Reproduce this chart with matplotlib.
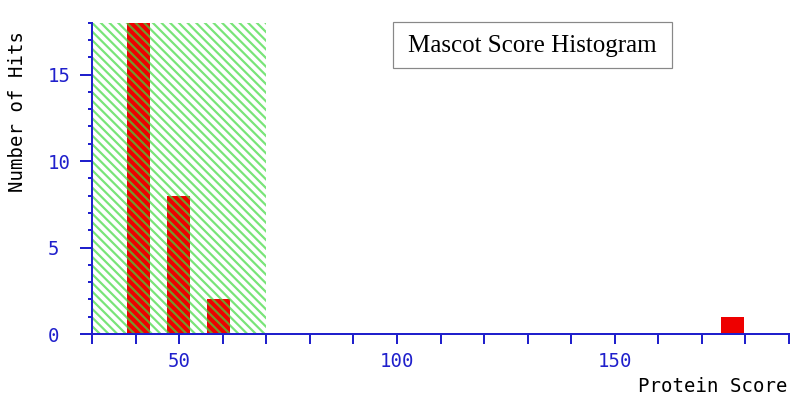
import matplotlib
matplotlib.use("Agg")
import matplotlib.pyplot as plt
from matplotlib.patches import Rectangle
from matplotlib.ticker import MultipleLocator

# histogram data
bin_centers = [40.6, 49.8, 59.0, 177.0]
hits = [18, 8, 2, 1]
bar_width = 5.2
threshold_lo = 30
threshold_hi = 70

x_range = (30, 190)
y_range = (0, 18)
x_major = [50, 100, 150]

title = "Mascot Score Histogram"
xlabel = "Protein Score"
ylabel = "Number of Hits"

DPI = 130
W, H = 802, 402
PT = 72.0 / DPI  # px -> pt

BLUE = "#2020cc"
RED = "#ee0000"
GREEN = (0.25, 0.85, 0.25, 0.7)

plt.rcParams["hatch.linewidth"] = 2.2 * PT
plt.rcParams["font.family"] = "DejaVu Sans Mono"

fig = plt.figure(figsize=(W / DPI, H / DPI), dpi=DPI)
ax = fig.add_axes([92 / W, 1 - 334 / H, (789 - 92) / W, (334 - 22.7) / H])

ax.bar(bin_centers, hits, width=bar_width, color=RED, linewidth=0, zorder=2)
span = ax.axvspan(threshold_lo, threshold_hi, facecolor="none", edgecolor=GREEN,
                  hatch="\\" * 5, linewidth=0)
span.set_zorder(4)

ax.set_xlim(*x_range)
ax.set_ylim(*y_range)

for side in ("top", "right"):
    ax.spines[side].set_visible(False)
for side in ("left", "bottom"):
    ax.spines[side].set_color(BLUE)
    ax.spines[side].set_linewidth(2 * PT)
    ax.spines[side].set_zorder(5)

ax.set_xticks(x_major)
ax.xaxis.set_minor_locator(MultipleLocator(10))
ax.yaxis.set_major_locator(MultipleLocator(5))
ax.yaxis.set_minor_locator(MultipleLocator(1))

ax.tick_params(axis="x", which="both", direction="out", length=10 * PT,
               width=2 * PT, color=BLUE, labelcolor=BLUE,
               labelsize=19 * PT, pad=8 * PT)
ax.tick_params(axis="y", which="major", direction="out", length=12.5 * PT,
               width=2 * PT, color=BLUE, labelcolor=BLUE,
               labelsize=19 * PT, pad=31.5 * PT)
ax.tick_params(axis="y", which="minor", direction="out", length=4.5 * PT,
               width=2 * PT, color=BLUE)
# y labels sit left-aligned in the original
for lab in ax.get_yticklabels():
    lab.set_horizontalalignment("left")

fig.text(787 / W, 1 - 387 / H, xlabel, ha="right", va="center",
         fontsize=19 * PT, color="black")
fig.text(18 / W, 1 - 112 / H, ylabel, ha="center", va="center",
         rotation=90, fontsize=19 * PT, color="black")

# title box
fig.patches.append(Rectangle((393 / W, 1 - 68 / H), (672 - 393) / W, 46 / H,
                             transform=fig.transFigure, facecolor="white",
                             edgecolor="#888888", linewidth=1.2 * PT))
fig.text(532.5 / W, 1 - 46 / H, title, ha="center", va="center",
         fontsize=25 * PT, family="Liberation Serif", color="black")

fig.savefig("out.png", dpi=DPI)
